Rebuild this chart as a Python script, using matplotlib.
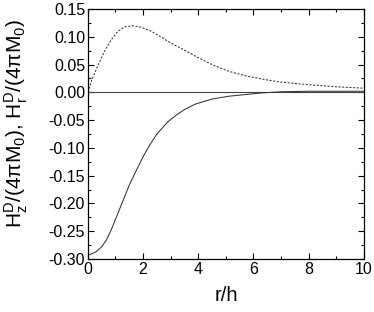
import numpy as np
import matplotlib
matplotlib.use("Agg")
import matplotlib.pyplot as plt
from matplotlib.ticker import MultipleLocator, FormatStrFormatter

plt.rcParams['font.family'] = ['Liberation Sans', 'DejaVu Sans']
plt.rcParams['mathtext.fontset'] = 'custom'
plt.rcParams['mathtext.rm'] = 'Liberation Sans'
plt.rcParams['mathtext.it'] = 'Liberation Sans'
plt.rcParams['axes.unicode_minus'] = False

# values
r_z = [0, 0.13, 0.3, 0.5, 0.67, 0.85, 1.03, 1.28, 1.5, 1.76, 2.0, 2.24, 2.5,
       2.9, 3.2, 3.5, 3.9, 4.5, 5.1, 5.7, 6.3, 7.0, 8.0, 9.0, 10.0]
h_z = [-0.293, -0.291, -0.287, -0.278, -0.266, -0.247, -0.225, -0.194, -0.167,
       -0.140, -0.116, -0.095, -0.075, -0.053, -0.041, -0.031, -0.021, -0.012,
       -0.007, -0.004, -0.001, 0.001, 0.002, 0.002, 0.002]

r_r = [0, 0.13, 0.37, 0.61, 0.85, 1.09, 1.34, 1.64, 1.94, 2.3, 2.7, 3.0, 3.5,
       3.9, 4.5, 5.1, 5.7, 6.3, 6.9, 7.5, 8.2, 9.0, 9.8, 10.0]
h_r = [0, 0.021, 0.049, 0.075, 0.095, 0.110, 0.118, 0.120, 0.117, 0.110,
       0.098, 0.089, 0.076, 0.065, 0.050, 0.038, 0.030, 0.024, 0.019, 0.016,
       0.013, 0.010, 0.008, 0.0075]

fig = plt.figure(figsize=(3.74, 3.12), dpi=100)
ax = fig.add_axes([0.235, 0.170, 0.738, 0.801])

ax.axhline(0, color='#444444', lw=0.8)
ax.plot(r_z, h_z, color='#333333', lw=0.75)
ax.plot(r_r, h_r, color='#333333', lw=0.75, dashes=(2, 1.5))

ax.set_xlim(0, 10)
ax.set_ylim(-0.30, 0.15)
ax.xaxis.set_major_locator(MultipleLocator(2))
ax.xaxis.set_minor_locator(MultipleLocator(1))
ax.yaxis.set_major_locator(MultipleLocator(0.05))
ax.yaxis.set_minor_locator(MultipleLocator(0.025))
ax.yaxis.set_major_formatter(FormatStrFormatter('%.2f'))
ax.tick_params(which='both', direction='in', top=True, right=True,
               labelsize=11.5, width=0.8, pad=2)
ax.tick_params(which='major', length=4)
ax.tick_params(which='minor', length=2)
for s in ax.spines.values():
    s.set_linewidth(0.9)

ax.set_xlabel('r/h', fontsize=14.5, labelpad=7)
ax.set_ylabel(r'H$^{\mathrm{D}}_{z}$/(4$\pi$M$_0$), H$^{\mathrm{D}}_{r}$/(4$\pi$M$_0$)',
              fontsize=15)
ax.yaxis.set_label_coords(-0.21, 0.54)

fig.savefig('out.png', dpi=100)
